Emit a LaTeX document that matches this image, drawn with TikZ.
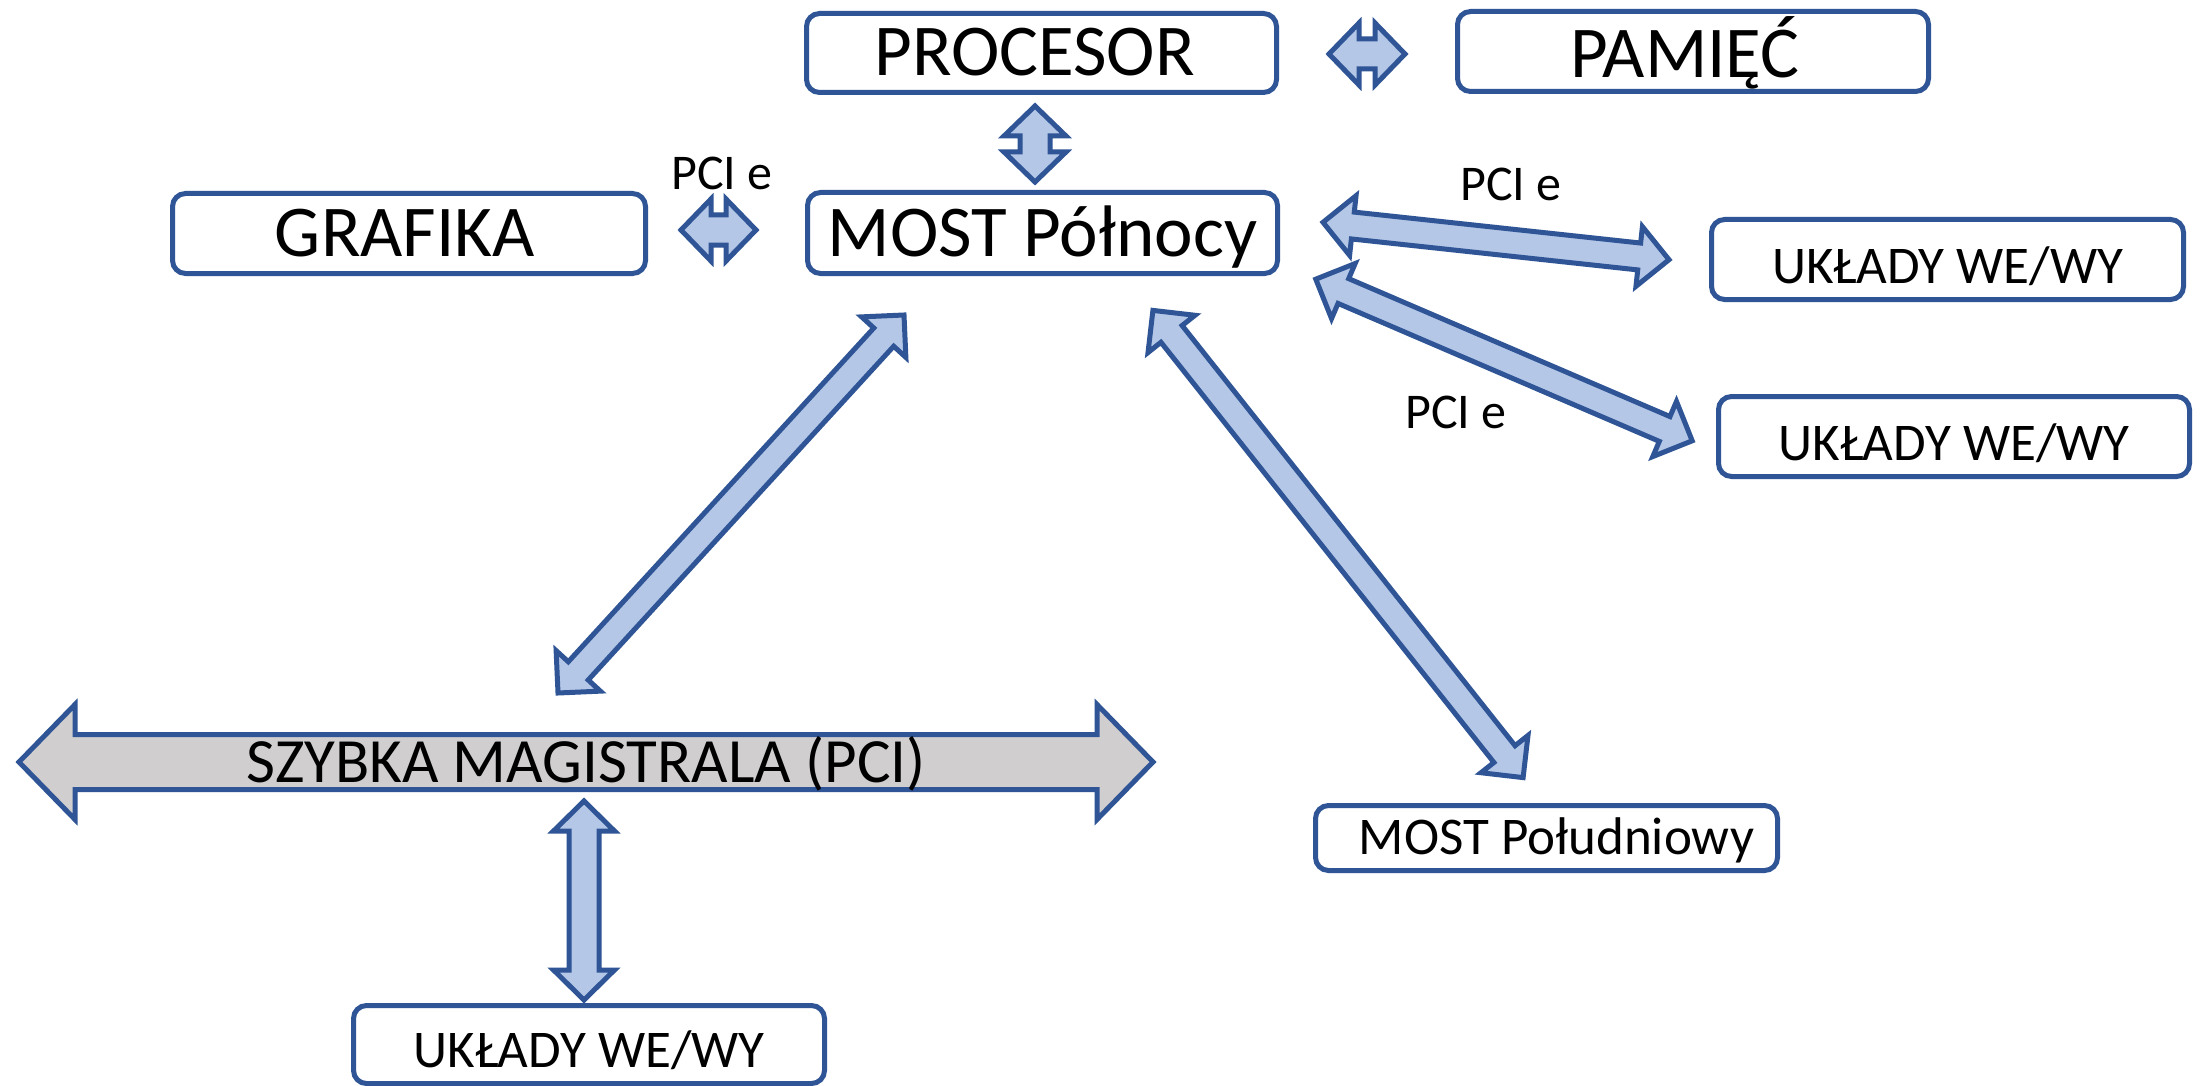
\documentclass[tikz,border=0pt]{standalone}
\usepackage{fontspec}
\setmainfont{Carlito}
\usetikzlibrary{calc}

\definecolor{edgeblue}{HTML}{2F5597}
\definecolor{arrowfill}{HTML}{B4C7E7}
\definecolor{busgrey}{HTML}{D0CECE}

% Double-headed block arrow between two tip coordinates.
% #1 style, #2/#3 tips, #4 shaft half width, #5 head half width, #6 head length
\newcommand\dblarrow[6]{%
  \draw[#1]
    (#2)
    -- ($(#2)!#6!(#3)!#5!90:(#3)$)
    -- ($(#2)!#6!(#3)!#4!90:(#3)$)
    -- ($(#3)!#6!(#2)!#4!-90:(#2)$)
    -- ($(#3)!#6!(#2)!#5!-90:(#2)$)
    -- (#3)
    -- ($(#3)!#6!(#2)!#5!90:(#2)$)
    -- ($(#3)!#6!(#2)!#4!90:(#2)$)
    -- ($(#2)!#6!(#3)!#4!-90:(#3)$)
    -- ($(#2)!#6!(#3)!#5!-90:(#3)$)
    -- cycle;}

\begin{document}
\begin{tikzpicture}[x=1pt,y=-1pt,
  box/.style={draw=edgeblue, line width=5pt, rounded corners=13pt, fill=white,
    inner sep=0pt, outer sep=2.5pt, text depth=0pt},
  bigtext/.style={font=\fontsize{73pt}{80pt}\selectfont},
  midtext/.style={font=\fontsize{53pt}{60pt}\selectfont},
  lbl/.style={font=\fontsize{50pt}{56pt}\selectfont, inner sep=0pt,
    text height=31.6pt, text depth=0pt},
  barrow/.style={draw=edgeblue, fill=arrowfill, line width=5pt, line join=miter},
  busarrow/.style={draw=edgeblue, fill=busgrey, line width=5pt, line join=miter}]

\useasboundingbox (0,0) rectangle (2203,1086);
\fill[white] (0,0) rectangle (2203,1086);

% boxes
\node[box, bigtext, text height=46pt, minimum width=470pt, minimum height=79pt]
  (proc) at (1041.5,53) {\hspace*{-14pt}PROCESOR};
\node[box, bigtext, text height=53pt, minimum width=471pt, minimum height=80pt]
  (pam) at (1693,51.5) {\hspace*{-16pt}PAMIĘĆ};
\node[box, bigtext, text height=46pt, minimum width=473pt, minimum height=80pt]
  (graf) at (409,233.5) {\hspace*{-8pt}GRAFIKA};
\node[box, bigtext, text height=46pt, minimum width=470pt, minimum height=81pt]
  (nb) at (1042.5,233) {MOST Północy};
\node[box, midtext, text height=47.5pt, minimum width=472pt, minimum height=80pt]
  (io1) at (1947.5,259.5) {UKŁADY WE/WY};
\node[box, midtext, text height=47.5pt, minimum width=471pt, minimum height=80pt]
  (io2) at (1954,436.5) {UKŁADY WE/WY};
\node[box, midtext, text height=33.5pt, minimum width=462pt, minimum height=65pt]
  (sb) at (1546.5,838) {\hspace*{20pt}MOST Południowy};
\node[box, midtext, text height=45.5pt, minimum width=471pt, minimum height=78pt]
  (io3) at (589,1044.5) {UKŁADY WE/WY};

% labels
\node[lbl] (pcieA) at (722,174) {PCI e};
\node[lbl] (pcieB) at (1511,185) {PCI e};
\node[lbl] (pcieC) at (1456,413) {PCI e};

% fast bus
\coordinate (busc) at (586,762);
\coordinate (busL) at ($(busc)+(-567,0)$);
\coordinate (busR) at ($(busc)+(567,0)$);
\dblarrow{busarrow}{busL}{busR}{27.5pt}{57.5pt}{56pt}
\node[font=\fontsize{63pt}{70pt}\selectfont, inner sep=0pt, text height=40pt,
  text depth=0pt] (bus) at (busc) {SZYBKA MAGISTRALA (PCI)};

% connector tips
\coordinate (a1) at ($(proc.east)+(50,1)$);
\coordinate (a2) at ($(pam.west)+(-50,2.5)$);
\coordinate (b1) at ($(proc.south)+(-6.5,11)$);
\coordinate (b2) at ($(nb.north)+(-7.5,-8)$);
\coordinate (c1) at ($(graf.east)+(33,-3.5)$);
\coordinate (c2) at ($(nb.west)+(-49,-3)$);
\coordinate (d1) at ($(nb.east)+(43,-10.7)$);
\coordinate (d2) at ($(io1.west)+(-40,0.2)$);
\coordinate (e1) at ($(nb.east)+(35.8,46.2)$);
\coordinate (e2) at ($(io2.west)+(-23.8,4.3)$);
\coordinate (f1) at ($(nb.south)+(-138.5,39)$);
\coordinate (f2) at ($(busc)+(-28,-69)$);
\coordinate (g1) at ($(nb.south)+(110.4,34.4)$);
\coordinate (g2) at ($(sb.north)+(-23.4,-25.4)$);
\coordinate (h1) at ($(busc)+(-2,39)$);
\coordinate (h2) at ($(io3.north)+(-5,-3)$);

% block arrows
\dblarrow{barrow}{a1}{a2}{15pt}{31pt}{30pt}
\dblarrow{barrow}{b1}{b2}{15pt}{31pt}{30pt}
\dblarrow{barrow}{c1}{c2}{15pt}{31pt}{30pt}
\dblarrow{barrow}{d1}{d2}{13.5pt}{30pt}{30pt}
\dblarrow{barrow}{e1}{e2}{13.5pt}{30pt}{30pt}
\dblarrow{barrow}{f1}{f2}{13.5pt}{30pt}{30pt}
\dblarrow{barrow}{g1}{g2}{13.5pt}{30pt}{30pt}
\dblarrow{barrow}{h1}{h2}{15pt}{30.5pt}{30pt}

\end{tikzpicture}
\end{document}
